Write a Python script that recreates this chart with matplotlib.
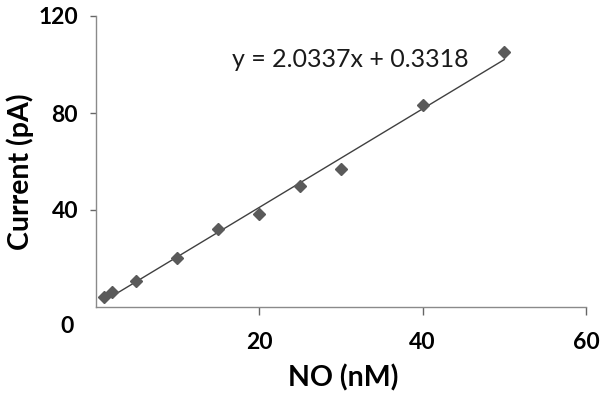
import matplotlib
matplotlib.use("Agg")
import matplotlib.pyplot as plt
import numpy as np

# Data
no_nM = [1, 2, 5, 10, 15, 20, 25, 30, 40, 50]
current_pA = [4.3, 6.1, 10.8, 20.1, 32.0, 38.2, 49.9, 56.8, 83.3, 105.3]
slope = 2.0337
intercept = 0.3318
x_ticks = [20, 40, 60]
y_ticks = [40, 80, 120]

plt.rcParams['font.family'] = ['Lato', 'DejaVu Sans']

W, H = 603, 401
fig = plt.figure(figsize=(W / 100, H / 100), dpi=100)
left, right, top, bottom = 95.5, 586, 16, 307
ax = fig.add_axes([left / W, (H - bottom) / H, (right - left) / W, (bottom - top) / H])

ax.set_xlim(0, 60)
ax.set_ylim(0, 120)

xs = np.array([min(no_nM), max(no_nM)])
ax.plot(xs, slope * xs + intercept, color='#404040', lw=1.0, zorder=2)
ax.plot(no_nM, current_pA, linestyle='none', marker='D', ms=6.2,
        color='#5a5a5a', mec='#5a5a5a', zorder=3)

for s in ['top', 'right']:
    ax.spines[s].set_visible(False)
for s in ['left', 'bottom']:
    ax.spines[s].set_color('#8a8a8a')
    ax.spines[s].set_linewidth(1.0)

ax.set_xticks(x_ticks)
ax.set_yticks(y_ticks)
ax.tick_params(axis='x', direction='out', length=6, width=1, color='#666666',
               pad=12, labelsize=16.5)
ax.tick_params(axis='y', direction='out', length=4.5, width=1, color='#666666',
               pad=8, labelsize=16.5)
for lab in ax.get_xticklabels() + ax.get_yticklabels():
    lab.set_fontweight('bold')

ax.annotate('0', xy=(0, 0), xycoords='data', xytext=(-15.5, -14),
            textcoords='offset points', ha='right', va='center',
            fontsize=16.5, fontweight='bold')

fig.text(343 / W, 1 - 378 / H, 'NO (nM)', fontsize=20.5, fontweight='bold',
         ha='center', va='center')
fig.text(20 / W, 1 - 172 / H, 'Current (pA)', fontsize=20.5, fontweight='bold',
         ha='center', va='center', rotation=90)

ax.text(0.52, 0.852, 'y = 2.0337x + 0.3318', transform=ax.transAxes,
        ha='center', va='center', fontsize=18, color='#1a1a1a')

fig.savefig('out.png', dpi=100)
